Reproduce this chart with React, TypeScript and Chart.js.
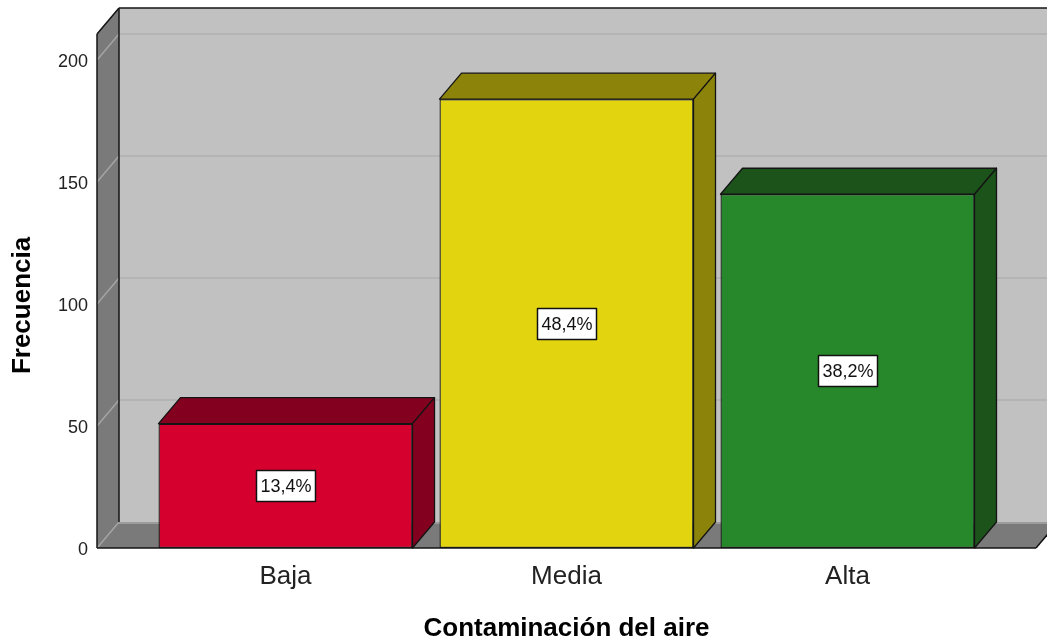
import { useEffect, useRef } from 'react';
import { Chart, registerables } from 'chart.js';

Chart.register(...registerables);

// Frequencies of each air-pollution level
const categories = ['Baja', 'Media', 'Alta'];
const frequencies = [51, 184, 145];
const yTickValues = [0, 50, 100, 150, 200];
const frontColors = ['#d6002e', '#e2d510', '#27882b'];
const shadeColors = ['#83001f', '#8c830a', '#1b531b'];

const FONT = '"Liberation Sans", Arial, Helvetica, sans-serif';
const DEPTH_X = 22; // horizontal depth of the 3D box
const DEPTH_Y = 26; // vertical depth of the 3D box
const WALL_MARGIN = 48; // front plane runs this far past the outer categories

const total = frequencies.reduce((a, b) => a + b, 0);
const percentLabels = frequencies.map(
  (v) => (v / total * 100).toFixed(1).replace('.', ',') + '%'
);

function line(ctx: CanvasRenderingContext2D, x0: number, y0: number, x1: number, y1: number) {
  ctx.beginPath();
  ctx.moveTo(x0, y0);
  ctx.lineTo(x1, y1);
  ctx.stroke();
}

function poly(ctx: CanvasRenderingContext2D, pts: number[][]) {
  ctx.beginPath();
  ctx.moveTo(pts[0][0], pts[0][1]);
  for (let i = 1; i < pts.length; i++) ctx.lineTo(pts[i][0], pts[i][1]);
  ctx.closePath();
}

// Back wall, left wall, floor and the gridlines painted on them
const boxWalls = {
  id: 'boxWalls',
  beforeDraw(chart: any) {
    const { ctx, chartArea, scales } = chart;
    const ys = scales.y;
    const left = chartArea.left - WALL_MARGIN;
    const right = chartArea.right + WALL_MARGIN;
    const top = ys.getPixelForValue(ys.max);
    const bottom = ys.getPixelForValue(0);
    const dx = DEPTH_X;
    const dy = DEPTH_Y;
    ctx.save();

    ctx.fillStyle = '#c1c1c1';
    ctx.fillRect(left + dx, top - dy, right - left, bottom - top);

    ctx.strokeStyle = '#b4b4b4';
    ctx.lineWidth = 2;
    yTickValues.forEach((v) => {
      if (v === 0) return;
      const py = ys.getPixelForValue(v) - dy;
      line(ctx, left + dx, py, right + dx, py);
    });

    ctx.fillStyle = '#7a7a7a';
    poly(ctx, [[left, top], [left + dx, top - dy], [left + dx, bottom - dy], [left, bottom]]);
    ctx.fill();
    poly(ctx, [[left, bottom], [left + dx, bottom - dy], [right + dx, bottom - dy], [right, bottom]]);
    ctx.fill();

    ctx.strokeStyle = '#a4a4a4';
    ctx.lineWidth = 1.5;
    yTickValues.forEach((v) => {
      if (v === 0) return;
      const py = ys.getPixelForValue(v);
      line(ctx, left, py, left + dx, py - dy);
    });
    line(ctx, left, bottom, left + dx, bottom - dy);
    ctx.strokeStyle = '#9c9c9c';
    ctx.lineWidth = 2;
    line(ctx, left + dx, bottom - dy + 1, right + dx, bottom - dy + 1);

    ctx.strokeStyle = '#141414';
    ctx.lineWidth = 1.5;
    line(ctx, left + dx, top - dy, right + dx, top - dy);
    line(ctx, left + dx, top - dy, left + dx, bottom - dy);
    line(ctx, left, top, left + dx, top - dy);
    line(ctx, left, top, left, bottom);
    line(ctx, left, bottom, right, bottom);
    line(ctx, right, bottom, right + dx, bottom - dy);
    ctx.restore();
  },
  afterDatasetsDraw(chart: any) {
    const { ctx } = chart;
    const meta = chart.getDatasetMeta(0);
    const dx = DEPTH_X;
    const dy = DEPTH_Y;
    ctx.save();
    ctx.lineJoin = 'round';
    meta.data.forEach((bar: any, i: number) => {
      const { x, y, base, width } = bar.getProps(['x', 'y', 'base', 'width'], true);
      const x0 = x - width / 2;
      const x1 = x + width / 2;
      ctx.fillStyle = shadeColors[i];
      ctx.strokeStyle = '#141414';
      ctx.lineWidth = 1.3;
      poly(ctx, [[x0, y], [x0 + dx, y - dy], [x1 + dx, y - dy], [x1, y]]);
      ctx.fill();
      ctx.stroke();
      poly(ctx, [[x1, y], [x1 + dx, y - dy], [x1 + dx, base - dy], [x1, base]]);
      ctx.fill();
      ctx.stroke();

      // percentage label centred on the front face
      const text = percentLabels[i];
      ctx.font = `18px ${FONT}`;
      const w = Math.round(ctx.measureText(text).width + 8);
      const h = 31;
      const cx = Math.round(x);
      const cy = Math.round((y + base) / 2);
      const bx = cx - w / 2;
      const by = cy - h / 2;
      ctx.fillStyle = '#ffffff';
      ctx.fillRect(bx, by, w, h);
      ctx.strokeStyle = '#111111';
      ctx.lineWidth = 1.5;
      ctx.strokeRect(bx, by, w, h);
      ctx.fillStyle = '#111111';
      ctx.textAlign = 'center';
      ctx.textBaseline = 'middle';
      ctx.fillText(text, cx, cy + 1);
    });
    ctx.restore();
  },
};

export default function App() {
  const canvasRef = useRef<HTMLCanvasElement | null>(null);

  useEffect(() => {
    document.body.style.margin = '0';
    const canvas = canvasRef.current;
    if (!canvas) return;
    const chart = new Chart(canvas, {
      type: 'bar',
      data: {
        labels: categories,
        datasets: [
          {
            data: frequencies,
            backgroundColor: frontColors,
            borderColor: '#161616',
            borderWidth: 1.3,
            borderSkipped: false,
            barPercentage: 0.904,
            categoryPercentage: 1,
          },
        ],
      },
      options: {
        responsive: false,
        maintainAspectRatio: false,
        animation: false,
        layout: { padding: { top: 34, right: 59, bottom: -2, left: 0 } },
        plugins: {
          legend: { display: false },
          tooltip: { enabled: false },
        },
        scales: {
          x: {
            grid: { display: false, drawTicks: false },
            border: { display: false },
            ticks: { font: { family: FONT, size: 26 }, color: '#222222', padding: 13 },
            title: {
              display: true,
              text: 'Contaminación del aire',
              font: { family: FONT, size: 26, weight: 'bold', lineHeight: 1 },
              color: '#000000',
              padding: 0,
            },
            afterFit: (s: any) => {
              s.height = 94;
            },
          },
          y: {
            min: 0,
            max: 210.7,
            grid: { display: false, drawTicks: false },
            border: { display: false },
            afterBuildTicks: (s: any) => {
              s.ticks = yTickValues.map((value) => ({ value }));
            },
            ticks: {
              font: { family: FONT, size: 18 },
              color: '#222222',
              padding: 57,
              labelOffset: 2,
            },
            title: {
              display: true,
              // trailing spaces nudge the centred title down toward the floor
              text: 'Frecuencia    ',
              font: { family: FONT, size: 26, weight: 'bold', lineHeight: 1 },
              color: '#000000',
              padding: { top: 10, bottom: 0 },
            },
            afterFit: (s: any) => {
              s.width = 145;
              // the wide label gap should not push the plot down
              s.paddingTop = 12;
              s.paddingBottom = 12;
            },
          },
        },
      },
      plugins: [boxWalls],
    });
    return () => chart.destroy();
  }, []);

  return (
    <div style={{ width: 1047, height: 640 }}>
      <canvas ref={canvasRef} width={1047} height={640} style={{ display: 'block' }} />
    </div>
  );
}
